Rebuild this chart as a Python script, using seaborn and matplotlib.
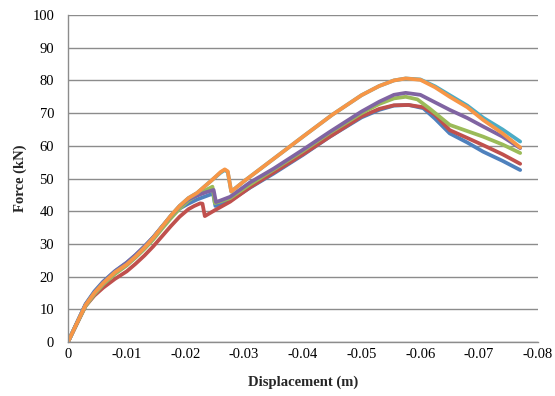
import pandas as pd
import matplotlib
matplotlib.use("Agg")
import matplotlib.pyplot as plt
import seaborn as sns

# Force-displacement curves (6 specimens)
early_x = [0, -0.0015, -0.003, -0.0045, -0.006, -0.008, -0.01, -0.0115, -0.013,
           -0.0145, -0.016, -0.0175, -0.019, -0.0205]

blue_x = early_x + [-0.022, -0.0235, -0.0247, -0.0251, -0.026, -0.0276, -0.031, -0.035,
                    -0.04, -0.0446, -0.05, -0.053, -0.0555, -0.058, -0.0605, -0.0625,
                    -0.065, -0.068, -0.0707, -0.074, -0.077]
blue_y = [0, 5.8, 11.6, 15.5, 18.5, 21.7, 24.3, 26.6, 29.2,
          32, 35.2, 38.2, 40.8, 42.3,
          43.6, 44.6, 45.4, 41.6, 42.2, 43.2, 47.2, 51.5,
          57.2, 62.8, 68.7, 71, 72.3, 72.5, 71.5, 68.3,
          63.8, 61, 58.2, 55.4, 52.6]

red_x = early_x + [-0.0215, -0.0225, -0.0229, -0.0233, -0.025, -0.0276, -0.031, -0.035,
                   -0.04, -0.0446, -0.05, -0.053, -0.0555, -0.058, -0.0605, -0.0625,
                   -0.065, -0.068, -0.0707, -0.074, -0.077]
red_y = [0, 5.5, 11, 14.2, 16.6, 19.3, 21.6, 23.9, 26.4,
         29.2, 32.3, 35.4, 38.3, 40.6,
         41.6, 42.4, 42.3, 38.5, 40.3, 42.9, 47.3, 51.8,
         57.4, 62.8, 69, 71.3, 72.4, 72.5, 71.8, 69.5,
         64.8, 62.4, 60.2, 57.4, 54.5]

green_x = early_x + [-0.022, -0.0235, -0.0246, -0.025, -0.026, -0.0276, -0.031, -0.035,
                     -0.04, -0.0446, -0.05, -0.053, -0.0555, -0.0575, -0.0595, -0.0615,
                     -0.065, -0.068, -0.0707, -0.074, -0.077]
green_y = [0, 5.6, 11, 14.6, 17.6, 20.8, 23.4, 25.8, 28.4,
           31.3, 34.6, 37.8, 40.8, 43.2,
           45, 46.5, 47.5, 42.5, 43, 44, 48.2, 52.7,
           58.4, 64, 70, 72.8, 74.5, 75, 74.2, 71.5,
           66.4, 64.5, 62.8, 60.4, 57.8]

purple_x = early_x + [-0.022, -0.0235, -0.0248, -0.0252, -0.026, -0.0276, -0.031, -0.035,
                      -0.04, -0.0446, -0.05, -0.053, -0.0555, -0.0575, -0.06, -0.0625,
                      -0.065, -0.068, -0.0707, -0.074, -0.077]
purple_y = [0, 5.8, 11.5, 15.2, 18.3, 21.6, 24.2, 26.6, 29.2,
            32, 35.3, 38.5, 41.5, 43.6,
            44.8, 45.8, 46.5, 42.8, 43.3, 44.4, 48.8, 53,
            58.8, 64.3, 70.5, 73.5, 75.6, 76.2, 75.6, 73.3,
            71, 68.5, 65.9, 62.8, 59.3]

teal_x = early_x + [-0.022, -0.0245, -0.026, -0.0267, -0.0272, -0.0278, -0.03, -0.035,
                    -0.04, -0.045, -0.05, -0.053, -0.0555, -0.0575, -0.06, -0.0625,
                    -0.065, -0.068, -0.0707, -0.074, -0.077]
teal_y = [0, 5.7, 11.3, 15, 18, 21.3, 23.7, 26.1, 28.8,
          31.8, 35.2, 38.6, 41.6, 44,
          45.6, 49.5, 51.8, 52.6, 52, 46, 49.2, 56,
          62.8, 69.5, 75.5, 78.3, 80, 80.6, 80.3, 78.2,
          75.5, 72.3, 68.6, 65, 61.3]

orange_x = early_x + [-0.022, -0.0245, -0.026, -0.0267, -0.0272, -0.0278, -0.03, -0.035,
                      -0.04, -0.045, -0.05, -0.053, -0.0555, -0.0575, -0.06, -0.0625,
                      -0.065, -0.068, -0.0707, -0.074, -0.077]
orange_y = [0, 5.7, 11.3, 15, 18, 21.3, 23.7, 26.1, 28.8,
            31.8, 35.2, 38.6, 41.6, 44,
            45.6, 49.5, 52, 52.8, 52.2, 46, 49.2, 56,
            62.8, 69.5, 75.5, 78.3, 80, 80.6, 80.2, 77.9,
            75, 71.8, 67.9, 63.8, 59.5]

series = {
    "S1": (blue_x, blue_y),
    "S2": (red_x, red_y),
    "S3": (green_x, green_y),
    "S4": (purple_x, purple_y),
    "S5": (teal_x, teal_y),
    "S6": (orange_x, orange_y),
}
colors = ["#4F81BD", "#C0504D", "#9BBB59", "#8064A2", "#4BACC6", "#F79646"]

rows = []
for name, (xs, ys) in series.items():
    for i, (x, y) in enumerate(zip(xs, ys)):
        rows.append({"series": name, "order": i, "disp": x, "force": y})
df = pd.DataFrame(rows)

sns.set_style("white")
plt.rcParams['font.family'] = ['Liberation Serif', 'DejaVu Serif']

fig = plt.figure(figsize=(5.55, 3.96), dpi=100)
ax = fig.add_axes([0.1225, 0.1364, 0.8465, 0.8256])

for (name, _), c in zip(series.items(), colors):
    sub = df[df["series"] == name]
    sns.lineplot(data=sub, x="disp", y="force", sort=False, color=c,
                 linewidth=2.7, ax=ax, legend=False,
                 solid_joinstyle="round", solid_capstyle="round")

ax.set_xlim(0, -0.08)
ax.set_ylim(0, 100)
ax.set_xticks([0, -0.01, -0.02, -0.03, -0.04, -0.05, -0.06, -0.07, -0.08])
ax.set_xticklabels(["0", "-0.01", "-0.02", "-0.03", "-0.04", "-0.05", "-0.06", "-0.07", "-0.08"])
ax.set_yticks(range(0, 101, 10))

ax.yaxis.grid(True, color="#8c8c8c", linewidth=1.0)
ax.set_axisbelow(True)
for side in ["top", "right"]:
    ax.spines[side].set_visible(False)
for side in ["left", "bottom"]:
    ax.spines[side].set_color("#8c8c8c")
    ax.spines[side].set_linewidth(1.0)

ax.tick_params(axis="both", length=0, labelsize=10.5, colors="black")
ax.tick_params(axis="y", pad=10)
ax.tick_params(axis="x", pad=4)

ax.set_xlabel("Displacement (m)", fontsize=10.5, fontweight="bold", labelpad=11)
ax.set_ylabel("Force (kN)", fontsize=10.5, fontweight="bold", labelpad=4)

fig.savefig("out.png", dpi=100)
